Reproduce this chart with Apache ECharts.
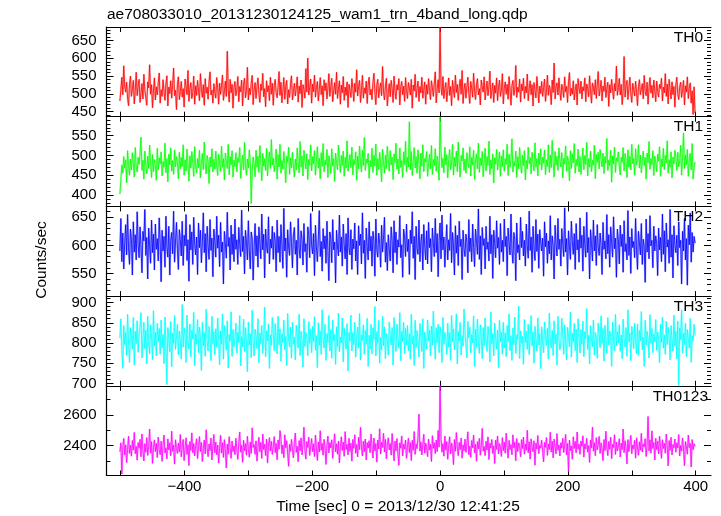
<!DOCTYPE html>
<html><head><meta charset="utf-8">
<script src="https://cdn.jsdelivr.net/npm/echarts@6/dist/echarts.min.js"></script>
<style>html,body{margin:0;padding:0;background:#fff}#c{width:721px;height:516px}</style>
</head><body><div id="c"></div>
<script>
const TITLE = 'ae708033010_20131230124125_wam1_trn_4band_long.qdp';
const Y_TITLE = 'Counts/sec';
const X_TITLE = 'Time [sec] 0 = 2013/12/30 12:41:25';
const T_START = -501, T_STEP = 1.5;   // bin grid (s)
const bandNames = ['TH0', 'TH1', 'TH2', 'TH3', 'TH0123'];
const bandColors = ['#ff0000', '#00ff00', '#0000ff', '#00ffff', '#ff00ff'];

const th0 = [
480,512,547,498,579,521,505,533,488,467,526,550,493,514,538,472,509,561,495,522,
541,476,503,529,486,555,511,490,468,534,517,582,499,526,461,508,545,483,520,497,
531,559,474,512,493,540,507,482,528,551,466,519,501,537,488,524,573,495,510,456,
527,548,484,506,535,491,515,463,542,520,498,566,479,513,532,487,504,550,471,523,
496,538,509,481,557,514,490,526,468,543,502,519,485,534,562,497,511,474,529,505,
488,546,517,471,530,499,524,553,482,508,536,493,620,512,477,541,503,527,460,518,
535,495,513,549,478,521,506,539,466,527,544,489,509,575,483,516,498,531,552,470,
511,532,487,519,545,501,476,528,510,558,492,515,464,537,506,523,481,547,499,530,
468,524,541,503,489,518,563,496,533,475,509,546,485,520,538,472,512,490,529,551,
483,507,530,494,516,548,477,522,501,539,462,526,513,488,571,505,601,497,519,542,
474,528,506,553,491,517,535,480,512,546,498,523,467,540,509,531,486,515,557,493,
520,544,478,508,532,499,561,487,514,537,471,525,503,549,482,519,496,534,462,527,
511,490,543,516,479,530,505,568,494,521,538,476,509,552,488,517,501,536,473,526,
547,497,513,484,532,558,506,470,524,541,489,515,531,495,577,508,483,520,544,466,
503,529,492,538,515,476,550,507,485,526,511,543,469,519,535,498,522,479,546,509,
487,532,516,497,541,460,525,508,555,490,514,536,479,521,503,547,488,512,534,471,
526,499,543,510,484,537,518,493,529,562,475,513,540,503,688,521,496,549,487,515,
532,478,509,545,496,521,467,538,511,490,553,504,527,482,518,541,499,566,473,512,
530,488,519,547,502,473,535,516,491,558,509,484,526,543,497,515,469,539,521,505,
548,483,512,536,495,520,564,487,508,531,476,524,502,545,481,517,539,493,510,557,
472,516,534,499,527,485,549,511,468,523,538,496,513,580,490,519,505,542,477,528,
509,544,487,521,503,556,481,514,537,498,526,466,532,510,489,549,515,475,522,501,
535,493,518,542,479,507,553,496,524,512,470,539,504,587,486,520,531,497,545,508,
482,527,513,490,548,505,521,476,534,560,494,516,499,537,483,511,528,469,543,517,
501,536,486,520,509,545,478,528,515,492,551,506,474,531,519,498,540,487,525,563,
494,513,538,480,522,507,547,490,516,533,465,526,503,541,512,485,529,508,578,496,
518,544,497,527,470,509,605,491,523,538,484,515,547,501,476,530,512,494,536,505,
467,521,540,498,513,529,486,552,507,495,533,471,518,546,502,524,489,539,510,478,
536,508,491,527,515,544,480,519,503,557,493,528,472,541,512,486,534,498,521,463,
525,547,501,484,519,533,490,512,538,469,523,505,548,487,516,531,474,509,442,520,
446];

const th1 = [
402,438,476,455,497,468,489,431,512,474,450,491,463,507,482,445,520,471,458,495,
477,506,546,462,488,440,511,473,453,498,467,526,481,444,502,459,490,475,437,518,
463,494,478,509,448,485,470,531,456,492,433,503,476,519,460,487,452,514,471,497,
482,441,508,466,495,472,527,450,489,461,516,478,435,499,468,510,484,447,522,473,
456,492,469,513,443,481,505,464,534,477,453,500,486,429,496,471,517,458,490,465,
511,475,449,503,481,460,523,470,492,438,506,484,467,528,451,497,476,512,445,488,
472,507,458,494,483,520,442,479,501,463,533,474,450,491,468,514,485,378,461,496,
479,446,513,470,498,457,525,484,436,505,473,492,462,518,448,489,509,467,540,476,
493,459,481,516,440,502,471,528,455,487,465,510,477,431,498,483,521,452,494,469,
508,474,445,491,463,519,482,456,535,470,499,448,513,486,466,504,439,490,475,527,
461,497,478,512,450,485,522,468,493,441,507,472,530,459,488,476,515,444,499,481,
454,517,473,492,434,506,480,464,526,489,457,500,475,511,447,495,468,537,460,486,
502,469,521,451,490,477,509,437,498,466,524,483,458,513,474,545,462,491,480,505,
442,487,471,518,457,500,473,529,450,492,464,508,478,433,516,485,455,501,467,523,
489,460,512,476,496,439,504,482,531,465,491,453,519,470,487,444,509,477,536,458,
495,471,585,463,510,449,486,520,468,497,455,514,480,441,506,473,527,459,492,484,
510,447,479,503,466,525,452,490,474,517,460,498,482,437,598,508,469,493,456,521,
476,502,443,489,515,464,481,528,450,496,472,511,459,534,478,445,500,486,519,462,
491,455,507,480,469,522,448,495,476,513,439,488,504,466,531,457,493,474,510,446,
483,518,461,497,475,536,452,489,467,504,430,494,478,515,463,486,509,447,499,472,
514,460,492,477,528,449,503,470,489,542,458,485,473,511,444,497,466,520,481,455,
500,474,512,438,487,466,521,479,495,453,508,483,461,532,470,492,448,506,476,517,
463,496,480,514,451,489,472,527,457,501,469,538,484,445,510,475,498,462,519,487,
471,507,443,493,478,524,460,498,485,436,512,467,504,481,530,455,490,473,516,458,
497,452,486,519,464,500,477,533,448,492,470,511,459,488,475,526,441,503,482,508,
466,515,490,471,506,454,497,480,543,462,488,474,513,432,499,478,521,457,494,485,
509,473,451,496,482,520,461,505,487,444,514,470,498,463,528,479,492,450,517,476,
489,527,468,501,456,484,511,474,495,440,506,481,535,465,492,477,512,449,498,483,
459,503,486,522,447,491,472,518,464,500,481,537,455,489,470,509,443,496,478,513,
495,462,508,471,485,526,450,493,557,467,502,476,515,447,488,505,463,530,440,470,
483];

const th2 = [
590,648,571,622,558,604,637,583,655,596,566,629,611,547,642,588,619,574,660,601,
578,633,597,551,625,608,664,582,614,540,631,599,568,645,587,620,556,638,593,612,
572,649,604,535,627,590,616,561,652,598,579,634,547,609,623,585,661,570,606,641,
594,557,628,611,581,643,564,618,599,655,573,610,536,637,592,624,566,650,602,583,
615,548,640,596,627,569,605,658,587,621,553,634,600,575,646,591,613,544,629,607,
579,652,595,618,562,641,588,606,531,625,603,577,659,598,614,556,636,584,620,571,
647,593,610,566,632,601,580,663,589,616,549,627,606,574,644,590,558,624,612,538,
596,639,581,617,561,633,604,576,656,592,620,542,629,598,586,651,567,611,595,634,
575,623,608,553,645,587,616,570,637,602,559,666,590,613,543,628,597,582,642,605,
560,618,632,584,609,547,648,595,577,626,610,565,639,589,603,552,633,619,578,657,
600,585,621,546,636,597,571,613,662,580,607,554,630,594,617,568,643,591,537,624,
612,569,646,592,606,533,627,599,581,654,588,615,563,638,602,576,621,548,649,596,
583,628,557,611,594,640,572,608,548,635,600,620,567,658,586,609,541,631,598,574,
642,590,616,563,625,607,545,647,593,579,622,603,561,636,588,613,650,570,605,555,
619,594,572,633,608,551,644,587,624,566,610,597,653,578,601,543,629,615,580,638,
589,611,548,627,603,660,577,616,539,634,595,584,645,571,607,620,556,637,599,574,
626,567,641,596,612,553,631,605,580,648,587,621,544,609,640,576,654,592,615,561,
603,637,574,610,591,657,569,623,601,547,635,586,618,564,643,598,611,539,627,594,
580,620,605,551,646,589,613,571,638,596,562,629,608,584,665,575,617,548,632,600,
612,558,634,593,606,572,652,585,619,541,627,603,578,644,595,614,566,639,588,609,
571,647,598,616,546,631,604,583,656,592,568,623,610,537,640,587,601,574,650,596,
625,581,609,563,638,600,577,661,591,615,552,634,597,573,646,589,620,559,628,606,
590,613,545,642,597,622,568,608,585,653,574,617,599,540,636,602,581,648,593,611,
563,630,604,580,667,588,612,547,626,598,575,643,606,584,621,557,639,592,610,570,
649,595,618,554,634,601,579,659,587,614,540,628,603,572,645,590,617,564,637,597,
582,622,600,548,641,593,608,576,655,585,619,561,633,605,579,651,594,613,543,629,
610,567,636,598,620,552,644,589,603,574,662,582,615,550,630,596,607,578,648,591,
557,625,604,583,639,566,611,597,534,647,588,621,576,653,599,609,560,634,590,617,
603,546,631,592,614,571,656,584,626,553,640,597,610,568,664,579,619,542,635,600,
587,618,564,642,596,609,531,625,590,648,574,612,529,636,601,658,570,623,588,616,
604];

const th3 = [
812,860,781,737,843,796,826,769,871,804,752,838,817,784,863,745,829,798,855,777,
820,842,875,763,809,851,786,832,748,866,801,773,845,814,759,880,792,827,768,849,
803,836,772,857,788,821,749,864,795,697,838,810,778,853,741,825,799,868,784,815,
846,771,829,806,760,895,790,837,818,752,869,801,785,847,765,832,810,876,744,823,
797,858,776,839,814,732,851,793,826,767,884,806,780,841,819,756,866,798,828,771,
835,789,862,809,746,830,797,872,760,843,815,782,855,738,821,804,877,767,833,791,
812,849,775,827,801,868,743,816,790,859,779,838,808,729,852,795,823,764,881,803,
768,834,817,786,860,751,825,798,843,774,812,889,766,830,805,847,737,820,794,863,
825,781,848,809,773,866,796,835,755,822,801,857,783,816,744,873,808,790,839,762,
851,797,815,758,844,820,787,871,769,829,806,740,860,791,826,812,768,853,799,835,
776,841,803,865,782,818,739,850,794,829,772,882,810,787,846,757,823,801,868,780,
833,762,857,805,821,747,840,791,874,778,815,800,862,753,836,809,785,848,731,826,
804,869,780,826,796,851,765,817,839,788,873,758,820,806,845,772,831,797,861,742,
819,785,846,773,837,809,890,768,828,799,856,750,814,782,866,793,840,761,824,807,
770,852,818,795,838,745,863,802,779,847,812,787,875,756,829,803,851,774,836,795,
843,781,823,760,871,798,817,744,856,789,831,806,765,848,812,779,860,737,827,801,
785,857,806,832,768,842,794,879,815,760,838,801,846,776,840,820,752,863,797,826,
809,772,849,790,826,757,868,803,835,783,813,872,748,829,804,851,770,818,792,884,
827,796,763,853,812,839,775,821,800,867,742,834,789,859,807,774,845,816,761,838,
793,862,808,779,841,815,753,877,798,823,768,849,811,785,832,739,856,803,827,772,
851,788,825,766,843,802,872,781,818,757,837,796,864,774,820,809,891,761,830,799,
816,747,858,801,829,784,846,771,813,868,792,827,750,841,806,780,862,795,823,736,
840,805,776,852,819,793,836,760,874,808,787,831,769,855,798,822,745,866,810,783,
798,861,820,772,845,806,758,839,817,790,876,765,824,803,848,781,834,752,860,812,
775,833,797,854,766,828,811,885,784,819,748,843,806,791,857,770,826,813,762,849,
821,788,867,799,836,755,844,809,774,863,795,830,817,742,852,806,781,871,793,828,
800,845,779,820,761,859,812,790,838,767,882,803,825,756,841,818,786,849,807,773,
847,769,831,806,878,783,815,742,856,795,829,810,763,870,799,836,776,822,803,858,
782,827,813,751,846,801,864,787,820,772,853,796,839,815,758,843,807,780,869,792,
829,761,854,695,837,808,882,775,824,796,849,766,833,810,787,861,752,818,805,846,
818];

const th0123 = [
2360,2418,2215,2392,2447,2338,2405,2289,2376,2461,2349,2402,2331,2433,2370,2486,2347,2396,2305,2420,
2383,2441,2327,2476,2366,2300,2413,2357,2452,2336,2394,2508,2350,2426,2284,2388,2437,2361,2415,2322,
2456,2375,2341,2429,2297,2400,2469,2352,2386,2313,2444,2371,2418,2334,2494,2363,2403,2279,2438,2380,
2349,2417,2358,2472,2326,2395,2440,2302,2384,2451,2342,2406,2270,2427,2368,2483,2354,2414,2333,2398,
2445,2315,2392,2459,2362,2421,2296,2379,2436,2346,2503,2387,2328,2411,2367,2450,2307,2398,2473,2353,
2422,2340,2404,2286,2382,2467,2351,2419,2323,2439,2372,2254,2410,2344,2458,2384,2317,2430,2361,2397,
2341,2448,2376,2310,2418,2489,2357,2402,2291,2435,2366,2413,2337,2461,2378,2324,2424,2349,2516,2388,
2407,2343,2431,2299,2390,2454,2360,2421,2316,2476,2374,2409,2335,2443,2286,2399,2452,2365,2428,2342,
2393,2459,2354,2415,2308,2437,2376,2498,2446,2347,2404,2321,2471,2386,2432,2351,2265,2408,2363,2440,
2377,2320,2419,2482,2356,2396,2295,2433,2367,2450,2340,2406,2520,2372,2312,2427,2388,2455,2336,2391,
2446,2361,2412,2328,2469,2381,2303,2424,2358,2497,2369,2415,2337,2441,2390,2277,2401,2462,2352,2420,
2385,2438,2317,2404,2477,2359,2412,2344,2430,2287,2395,2458,2368,2423,2330,2491,2375,2409,2339,2448,
2362,2416,2299,2440,2383,2471,2350,2407,2326,2454,2374,2519,2391,2333,2429,2360,2443,2306,2420,2384,
2432,2354,2475,2397,2319,2449,2366,2413,2292,2437,2378,2510,2345,2422,2388,2480,2358,2441,2314,2403,
2451,2371,2414,2338,2479,2393,2300,2429,2365,2446,2352,2271,2418,2383,2463,2332,2410,2377,2436,2317,
2396,2448,2355,2420,2303,2434,2369,2492,2343,2411,2380,2457,2605,2364,2425,2339,2401,2474,2350,2416,
2387,2328,2443,2372,2408,2296,2465,2382,2419,2348,2436,2361,2499,2390,2790,2445,2357,2413,2331,2462,
2370,2427,2311,2399,2458,2346,2417,2381,2276,2439,2363,2485,2392,2334,2421,2373,2450,2318,2405,2366,
2442,2356,2412,2490,2341,2397,2324,2433,2386,2468,2352,2409,2298,2426,2379,2447,2337,2401,2512,2364,
2395,2335,2428,2371,2457,2309,2416,2384,2440,2348,2399,2283,2437,2376,2463,2345,2414,2389,2329,2452,
2367,2423,2350,2481,2392,2318,2434,2374,2407,2340,2470,2385,2422,2301,2446,2361,2418,2396,2327,2439,
2380,2455,2344,2410,2369,2500,2353,2425,2312,2444,2390,2359,2431,2272,2416,2378,2466,2347,2402,2384,
2435,2365,2294,2421,2388,2453,2336,2411,2374,2487,2358,2429,2320,2442,2393,2346,2478,2370,2405,2332,
2419,2383,2447,2355,2402,2473,2339,2414,2231,2436,2366,2398,2311,2458,2381,2427,2352,2489,2376,2409,
2343,2430,2395,2464,2325,2412,2378,2448,2357,2401,2290,2437,2386,2521,2363,2419,2334,2452,2372,2406,
2460,2349,2418,2381,2302,2440,2367,2494,2391,2335,2427,2376,2455,2314,2409,2388,2471,2342,2423,2365,
2399,2445,2326,2416,2373,2508,2354,2432,2389,2281,2439,2360,2413,2467,2347,2404,2379,2434,2318,2451,
2384,2337,2425,2370,2480,2358,2411,2393,2445,2329,2402,2590,2366,2437,2351,2496,2382,2420,2306,2448,
2374,2429,2345,2461,2392,2317,2438,2381,2415,2350,2475,2396,2268,2433,2369,2454,2339,2407,2386,2443,
2357,2418,2385,2472,2332,2401,2364,2450,2378,2269,2426,2394,2344,2469,2387,2415,2260,2439,2373,2412,
2395];

const bandValues = [th0, th1, th2, th3, th0123];
const yRanges = [[436, 688], [371, 598], [509.5, 669.5], [694, 916], [2205, 2790]];
const yMajorTicks = [[450, 500, 550, 600, 650], [400, 450, 500, 550], [550, 600, 650], [700, 750, 800, 850, 900], [2400, 2600]];
const yMinorStep = [10, 10, 10, 10, 100];
const X_RANGE = [-522, 424];
const xTickValues = [-500, -400, -300, -200, -100, 0, 100, 200, 300, 400];
const xLabelValues = [-400, -200, 0, 200, 400];

const FONT = 'Liberation Sans, Arial, Helvetica, sans-serif';
const LEFT = 106.5, RIGHT = 10, TOP0 = 27, PH = 89.7;
const chart = echarts.init(document.getElementById('c'), null, {renderer: 'canvas'});

const grids = [], xAxes = [], yAxes = [], series = [], graphics = [];
function minorTicks(i) {
  const [lo, hi] = yRanges[i], st = yMinorStep[i];
  const out = [];
  for (let v = Math.ceil(lo / st) * st; v <= hi; v += st) if (!yMajorTicks[i].includes(v)) out.push(v);
  return out;
}
const axLine = {show: true, onZero: false, lineStyle: {color: '#000', width: 1.2}};
const noLine = {show: false, onZero: false};
for (let i = 0; i < 5; i++) {
  grids.push({left: LEFT, right: RIGHT, top: TOP0 + i * PH, height: PH, containLabel: false});
  const last = i === 4;
  ['bottom', 'top'].forEach(pos => {
    xAxes.push({
      type: 'value', gridIndex: i, position: pos, min: X_RANGE[0], max: X_RANGE[1],
      axisLine: axLine, splitLine: {show: false},
      axisTick: {show: true, inside: true, length: 5, customValues: xTickValues, lineStyle: {color: '#000', width: 1}},
      axisLabel: {show: last && pos === 'bottom', customValues: xLabelValues, margin: 4,
        color: '#000', fontSize: 15, fontFamily: FONT,
        formatter: v => (v < 0 ? '\u2212' + Math.abs(v) : String(v))}
    });
  });
  const [lo, hi] = yRanges[i];
  const mk = (pos, major, showLine) => ({
    type: 'value', gridIndex: i, position: pos, min: lo, max: hi,
    axisLine: showLine ? axLine : noLine, splitLine: {show: false},
    axisTick: {show: true, inside: true, length: major ? 7 : 4,
      customValues: major ? yMajorTicks[i] : minorTicks(i), lineStyle: {color: '#000', width: 1}},
    axisLabel: {show: major && pos === 'left', customValues: yMajorTicks[i], margin: 10,
      color: '#000', fontSize: 15, fontFamily: FONT, formatter: v => String(v)}
  });
  yAxes.push(mk('left', true, true), mk('left', false, false), mk('right', true, false), mk('right', false, false));
  const data = bandValues[i].map((v, k) => [T_START + k * T_STEP, v]);
  series.push({
    type: 'line', xAxisIndex: 2 * i, yAxisIndex: 4 * i, data, showSymbol: false, silent: true,
    lineStyle: {color: bandColors[i], width: 2, opacity: 0.3}, z: 2
  });
  series.push({
    type: 'line', xAxisIndex: 2 * i, yAxisIndex: 4 * i, data, showSymbol: false, silent: true,
    lineStyle: {color: bandColors[i], width: 0.8}, z: 3
  });
  graphics.push({
    type: 'text', x: i === 4 ? 708 : 703, y: TOP0 + i * PH + 10.5, z: 10,
    style: {text: bandNames[i], fill: '#000', font: '15.5px ' + FONT, textAlign: 'right', textVerticalAlign: 'middle'}
  });
}
graphics.push({type: 'text', x: 107, y: 14.5,
  style: {text: TITLE, fill: '#000', font: '15.5px ' + FONT, textAlign: 'left', textVerticalAlign: 'middle'}});
graphics.push({type: 'text', x: 41.5, y: 260, rotation: Math.PI / 2,
  style: {text: Y_TITLE, fill: '#000', font: '15.5px ' + FONT, textAlign: 'center', textVerticalAlign: 'middle'}});
graphics.push({type: 'text', x: 398, y: 506.5,
  style: {text: X_TITLE, fill: '#000', font: '15.5px ' + FONT, textAlign: 'center', textVerticalAlign: 'middle'}});

chart.setOption({
  animation: false, backgroundColor: '#fff',
  grid: grids, xAxis: xAxes, yAxis: yAxes, series, graphic: graphics
});
</script></body></html>
